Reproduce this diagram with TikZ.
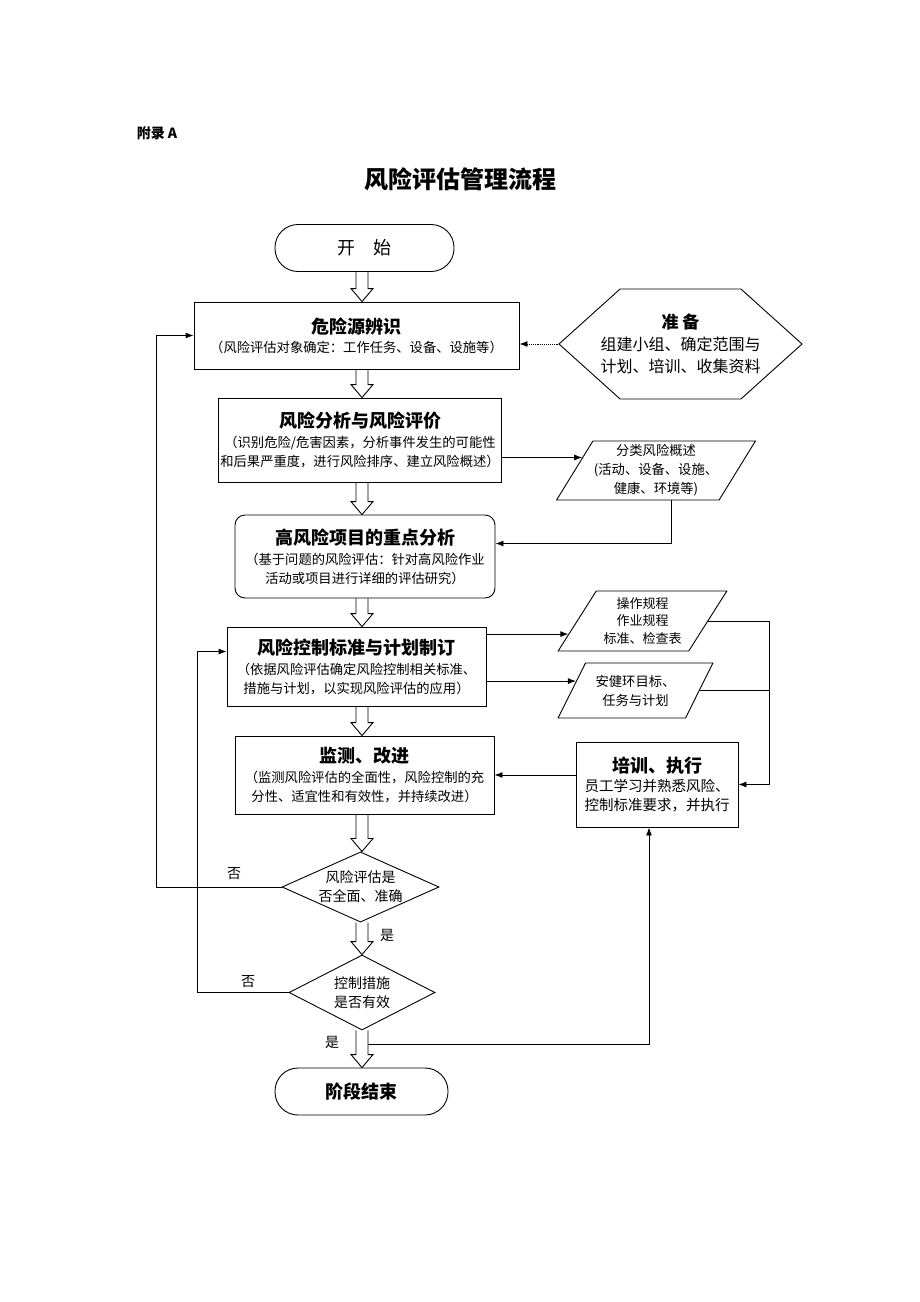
\documentclass[tikz,border=0pt]{standalone}
\usepackage{fontspec}
\newfontfamily\cjk{Noto Sans CJK SC}
\usetikzlibrary{calc,positioning,arrows.meta,shapes.geometric,shapes.symbols}

\newcommand{\boxtitle}{\cjk\bfseries\fontsize{18}{22}\selectfont}
\newcommand{\boxnote}{\cjk\fontsize{13.3}{19}\selectfont}
\newcommand{\shapenote}{\cjk\fontsize{14}{19}\selectfont}

% hollow down arrow between two nodes of the main column
\newcommand{\hollowarrow}[2]{%
  \draw ($(col |- #1)+(-6,0)$) -- ($(col |- #2)+(-6,-13)$) -- ($(col |- #2)+(-11,-13)$)
    -- (col |- #2) -- ($(col |- #2)+(11,-13)$) -- ($(col |- #2)+(6,-13)$) -- ($(col |- #1)+(6,0)$);}

\tikzset{
  box/.style={rectangle, draw, align=center, inner sep=2pt, font=\boxnote},
  term/.style={rectangle, draw, rounded corners=23pt, font=\cjk\fontsize{18}{22}\selectfont},
  para/.style={trapezium, trapezium left angle=56, trapezium right angle=124,
    trapezium stretches=true, draw, align=center, inner sep=1pt, font=\boxnote},
  decide/.style={diamond, draw, align=center, inner sep=0pt, font=\shapenote},
  lbl/.style={font=\cjk\fontsize{14}{16}\selectfont}
}

\begin{document}
\begin{tikzpicture}[x=1pt, y=-1pt, >={Latex[length=8pt,width=6pt]}, line width=0.9pt]
  \useasboundingbox (0,0) rectangle (920,1302);
  \coordinate (col) at (362,0);

  % headings
  \draw (133,133) node[anchor=west, font=\cjk\bfseries\fontsize{14}{16}\selectfont] (annex) {附录 A};
  \draw (460,179) node[font=\cjk\bfseries\fontsize{24}{28}\selectfont] (title) {风险评估管理流程};

  % main column
  \draw (364.5,248) node[term, minimum width=179, minimum height=47] (start) {开\quad 始};
  \draw (356.5,335.5) node[box, minimum width=325, minimum height=67] (haz)
    {{\boxtitle 危险源辨识}\\{\boxnote （风险评估对象确定：工作任务、设备、设施等）}};
  \draw (360,440) node[box, minimum width=282, minimum height=84] (risk)
    {{\boxtitle 风险分析与风险评价}\\[1pt]{\boxnote （识别危险/危害因素，分析事件发生的可能性}\\{\boxnote 和后果严重度，进行风险排序、建立风险概述）}};
  \draw (365,556.5) node[box, rounded corners=10pt, minimum width=260, minimum height=83] (focus)
    {{\boxtitle 高风险项目的重点分析}\\[1pt]{\boxnote （基于问题的风险评估：针对高风险作业}\\{\boxnote 活动或项目进行详细的评估研究）}};
  \draw (356.5,666.5) node[box, minimum width=259, minimum height=79] (ctrl)
    {{\boxtitle 风险控制标准与计划制订}\\[1pt]{\boxnote （依据风险评估确定风险控制相关标准、}\\{\boxnote 措施与计划，以实现风险评估的应用）}};
  \draw (364.5,775) node[box, minimum width=259, minimum height=78] (monitor)
    {{\boxtitle 监测、改进}\\[1pt]{\boxnote （监测风险评估的全面性，风险控制的充}\\{\boxnote 分性、适宜性和有效性，并持续改进）}};
  \draw (360.5,887) node[decide, aspect=2.2, minimum width=157, minimum height=70] (d1)
    {风险评估是\\否全面、准确};
  \draw (362,992.5) node[decide, aspect=1.95, minimum width=146, minimum height=75] (d2)
    {控制措施\\是否有效};
  \draw (361.5,1091.5) node[term, minimum width=173, minimum height=47] (fin) {\bfseries 阶段结束};

  % right side
  \draw (680.5,344) node[signal, signal to=west and east, signal pointer angle=84, draw,
    inner xsep=-20pt, minimum width=243, minimum height=110, align=center, font=\cjk\fontsize{16}{22}\selectfont] (prep)
    {{\cjk\bfseries\fontsize{17}{22}\selectfont 准\ 备}\\{\cjk\fontsize{16}{22}\selectfont 组建小组、确定范围与}\\{\cjk\fontsize{16}{22}\selectfont 计划、培训、收集资料}};
  \draw (656,470.5) node[para, minimum width=196, minimum height=59] (cat)
    {分类风险概述\\(活动、设备、设施、\\健康、环境等)};
  \draw (642.5,621) node[para, minimum width=169, minimum height=60, font=\cjk\fontsize{13}{17.5}\selectfont] (rules)
    {操作规程\\作业规程\\标准、检查表};
  \draw (635.5,690.5) node[para, minimum width=155, minimum height=55] (goals)
    {安健环目标、\\任务与计划};
  \draw (657,784.5) node[box, minimum width=162, minimum height=85, font=\cjk\fontsize{14.5}{19}\selectfont] (train)
    {{\boxtitle 培训、执行}\\{\cjk\fontsize{14.5}{19}\selectfont 员工学习并熟悉风险、}\\{\cjk\fontsize{14.5}{19}\selectfont 控制标准要求，并执行}};

  % hollow arrows
  \hollowarrow{start.south}{haz.north}
  \hollowarrow{haz.south}{risk.north}
  \hollowarrow{risk.south}{focus.north}
  \hollowarrow{focus.south}{ctrl.north}
  \hollowarrow{ctrl.south}{monitor.north}
  \hollowarrow{monitor.south}{d1.north}
  \hollowarrow{d1.south}{d2.north}
  \hollowarrow{d2.south}{fin.north}

  % lines
  \draw[->, densely dotted] (prep.west) -- (haz.east |- prep.west);
  \draw[->] (risk.east |- cat.170) -- (cat.170);
  \draw[->] ([xshift=15pt]cat.south) |- ([yshift=13pt]focus.east);
  \draw[->] (ctrl.east |- rules.190) -- (rules.190);
  \draw[->] (ctrl.east |- goals.171) -- (goals.171);
  \coordinate (rjoin) at ([xshift=31pt]train.east);
  \draw (rules.east) -| (rjoin);
  \draw (goals.east) -| (rjoin);
  \draw[->] (rjoin) -- (train.east);
  \draw[->] (train.west |- monitor.east) -- (monitor.east);
  \draw[->] (d1.west) -- ++(-125,0) |- (haz.west);
  \draw[->] (d2.west) -- ++(-91,0) |- ([yshift=15pt]ctrl.west);
  \coordinate (yesjoin) at ($(col |- d2.south)!0.37!(col |- fin.north)+(6,0)$);
  \draw[->] (yesjoin) -| ([xshift=-8pt]train.south);

  % branch labels
  \draw (234,874) node[lbl] (no1) {否};
  \draw (248,982) node[lbl] (no2) {否};
  \draw (387,935) node[lbl] (yes1) {是};
  \draw (332,1042) node[lbl] (yes2) {是};
\end{tikzpicture}
\end{document}
